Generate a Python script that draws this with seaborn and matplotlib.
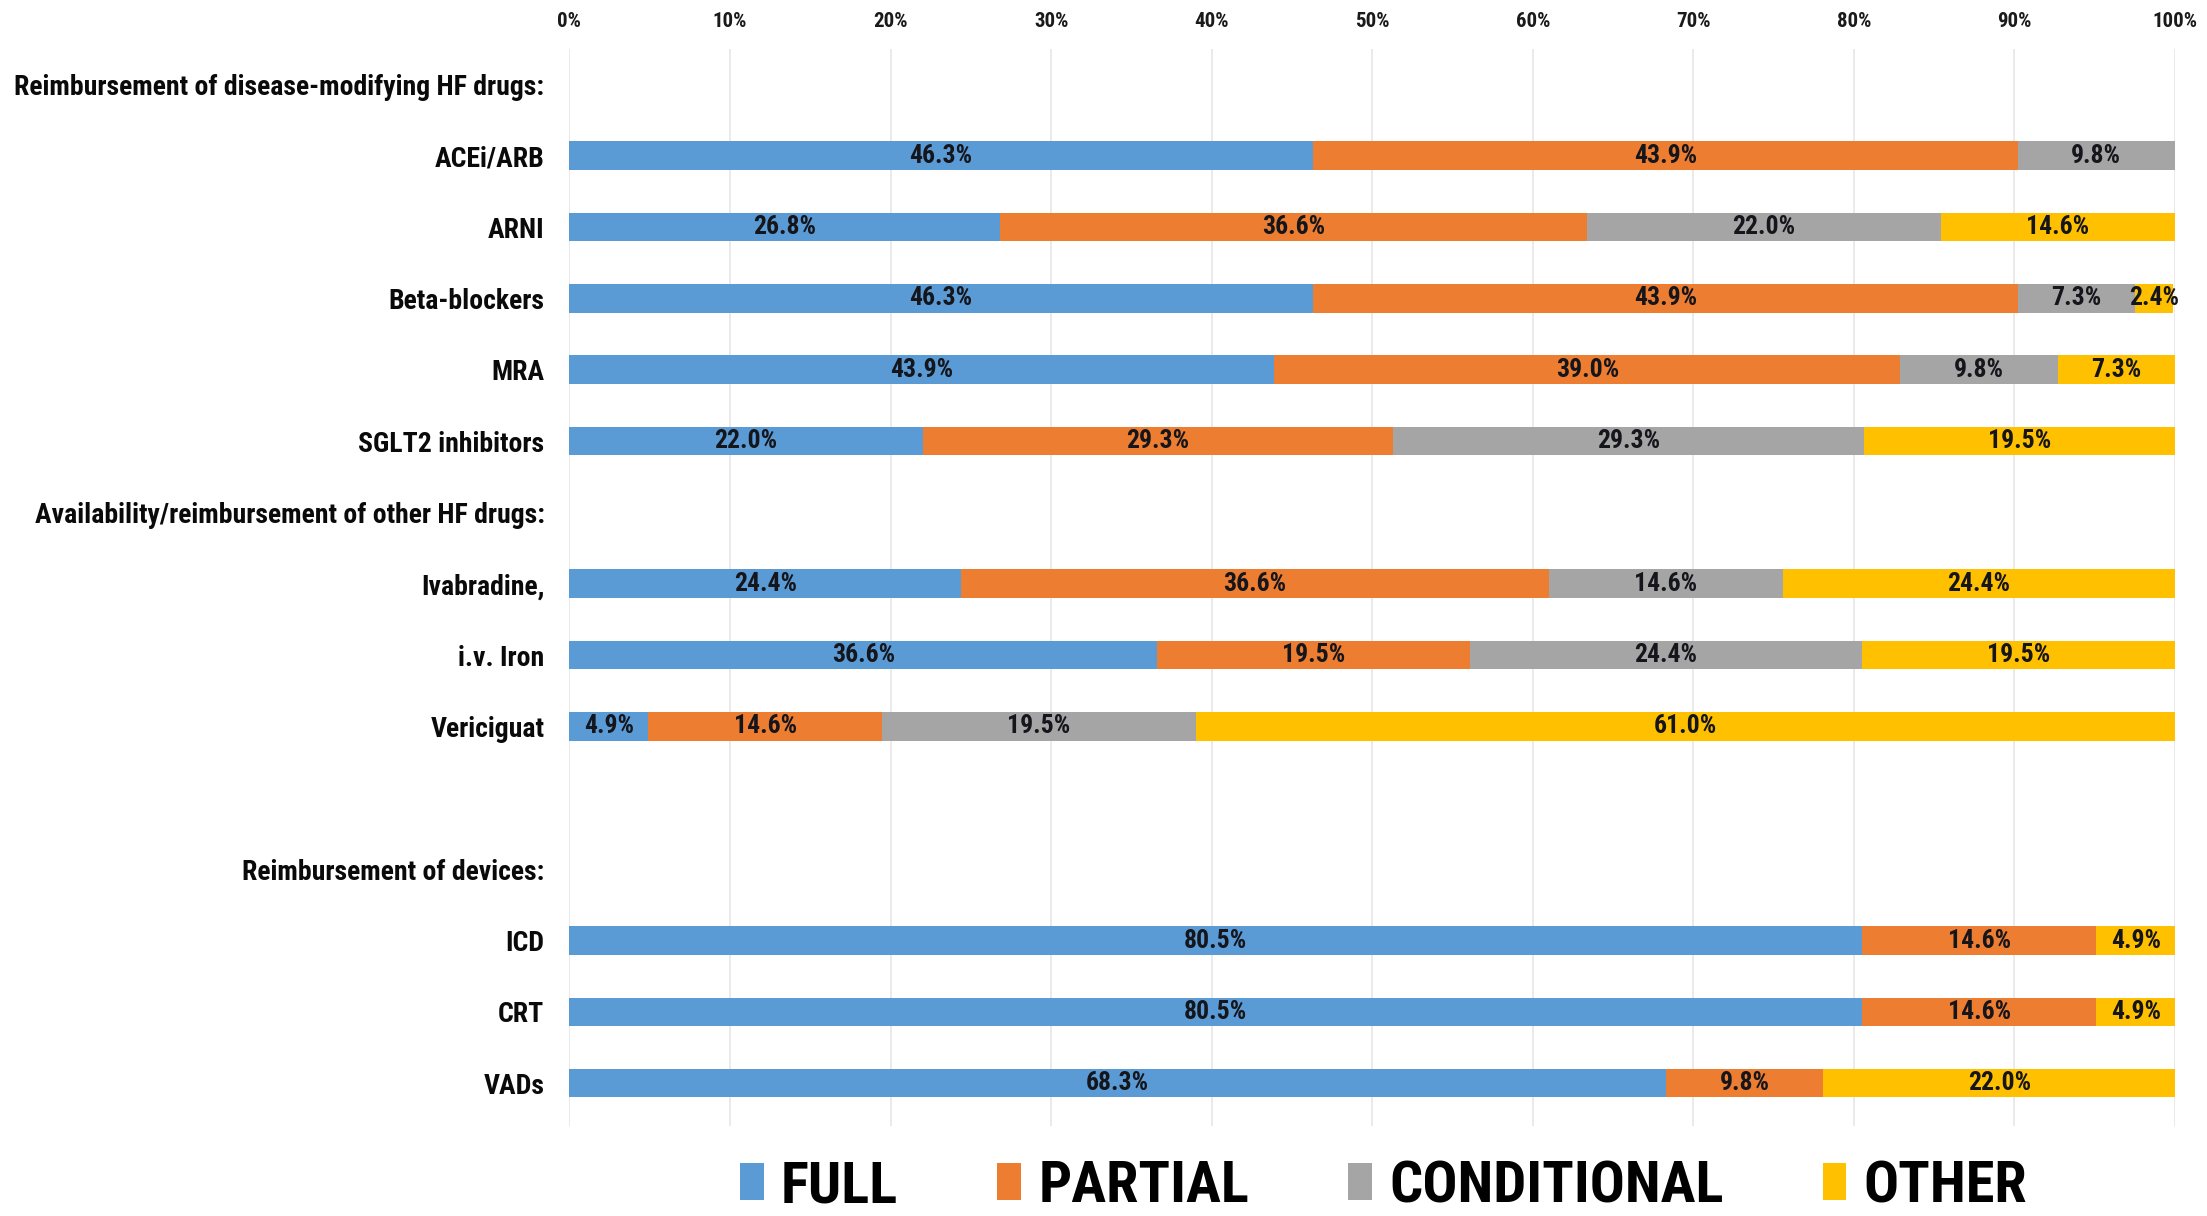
import matplotlib
matplotlib.use("Agg")
import matplotlib.pyplot as plt
from matplotlib import font_manager
from matplotlib.patches import Patch
import seaborn as sns
import pandas as pd

# ---------------- data ----------------
rows = ["Reimbursement of disease-modifying HF drugs:",
        "ACEi/ARB", "ARNI", "Beta-blockers", "MRA", "SGLT2 inhibitors",
        "Availability/reimbursement of other HF drugs:",
        "Ivabradine,", "i.v. Iron", "Vericiguat",
        " ",
        "Reimbursement of devices:",
        "ICD", "CRT", "VADs"]
categories = ["ACEi/ARB", "ARNI", "Beta-blockers", "MRA", "SGLT2 inhibitors",
              "Ivabradine,", "i.v. Iron", "Vericiguat", "ICD", "CRT", "VADs"]
full        = [46.3, 26.8, 46.3, 43.9, 22.0, 24.4, 36.6, 4.9, 80.5, 80.5, 68.3]
partial     = [43.9, 36.6, 43.9, 39.0, 29.3, 36.6, 19.5, 14.6, 14.6, 14.6, 9.8]
conditional = [9.8, 22.0, 7.3, 9.8, 29.3, 14.6, 24.4, 19.5, 0.0, 0.0, 0.0]
other       = [0.0, 14.6, 2.4, 7.3, 19.5, 24.4, 19.5, 61.0, 4.9, 4.9, 22.0]
series_names = ["FULL", "PARTIAL", "CONDITIONAL", "OTHER"]
tick_vals = [0, 10, 20, 30, 40, 50, 60, 70, 80, 90, 100]
tick_labels = ["0%", "10%", "20%", "30%", "40%", "50%", "60%", "70%", "80%", "90%", "100%"]

colors = ["#5B9BD5", "#ED7D31", "#A5A5A5", "#FFC000"]

# ---------------- fonts ----------------
sns.set_theme(style="white")
avail = {f.name for f in font_manager.fontManager.ttflist}
main_font = "DejaVu Sans"
for cand in ["Liberation Sans Narrow", "Roboto Condensed", "Open Sans Condensed",
             "Roboto", "Liberation Sans"]:
    if cand in avail:
        main_font = cand
        break
plt.rcParams["font.family"] = [main_font, "DejaVu Sans"]

df = pd.DataFrame({"category": categories, "FULL": full, "PARTIAL": partial,
                   "CONDITIONAL": conditional, "OTHER": other})
cum = df[series_names].cumsum(axis=1)

fig = plt.figure(figsize=(22.07, 12.16), dpi=100)
ax = fig.add_axes([0.258, 0.074, 0.7275, 0.886])

# draw cumulative bars from the widest to the narrowest so they stack
for name, col in reversed(list(zip(series_names, colors))):
    sns.barplot(x=cum[name], y=df["category"], order=rows, color=col,
                width=0.4, orient="h", ax=ax, saturation=1, linewidth=0)

# segment labels
ypos = {r: i for i, r in enumerate(rows)}
for i, cat in enumerate(categories):
    left = 0.0
    for name in series_names:
        v = df.loc[i, name]
        if v > 0:
            ax.text(left + v / 2, ypos[cat], f"{v:.1f}%", ha="center", va="center",
                    fontsize=18.5, fontweight="bold", color="#15151c")
        left += v

ax.set_xlim(0, 100)
ax.set_ylim(14.6, -0.5)
ax.set_xticks(tick_vals)
ax.set_xticklabels(tick_labels, fontsize=15, fontweight="bold", color="#1a1a1a")
ax.xaxis.tick_top()
ax.tick_params(axis="x", length=0, pad=13)
ax.tick_params(axis="y", length=0, pad=18)
ax.set_yticks(range(len(rows)))
ax.set_yticklabels(rows, fontsize=20, fontweight="bold", color="#0a0a0a")
ax.set_xlabel("")
ax.set_ylabel("")
ax.grid(axis="x", color="#e6e6e6", linewidth=1.2)
ax.set_axisbelow(True)
for s in ax.spines.values():
    s.set_visible(False)

# shrink long header labels if they would run off the left edge
fig.canvas.draw()
renderer = fig.canvas.get_renderer()
for lbl in ax.get_yticklabels():
    bb = lbl.get_window_extent(renderer)
    while bb.x0 < 6 and lbl.get_fontsize() > 8:
        lbl.set_fontsize(lbl.get_fontsize() - 0.5)
        bb = lbl.get_window_extent(renderer)

handles = [Patch(facecolor=c, edgecolor="none") for c in colors]
leg = fig.legend(handles, series_names, loc="center", bbox_to_anchor=(0.627, 0.024),
                 ncol=4, frameon=False, prop={"family": [main_font, "DejaVu Sans"],
                                               "weight": "bold", "size": 42},
                 handlelength=0.4, handleheight=0.6, handletextpad=0.3,
                 columnspacing=1.7, borderpad=0.1)
for t in leg.get_texts():
    t.set_color("#000000")

fig.savefig("out.png", dpi=100)
